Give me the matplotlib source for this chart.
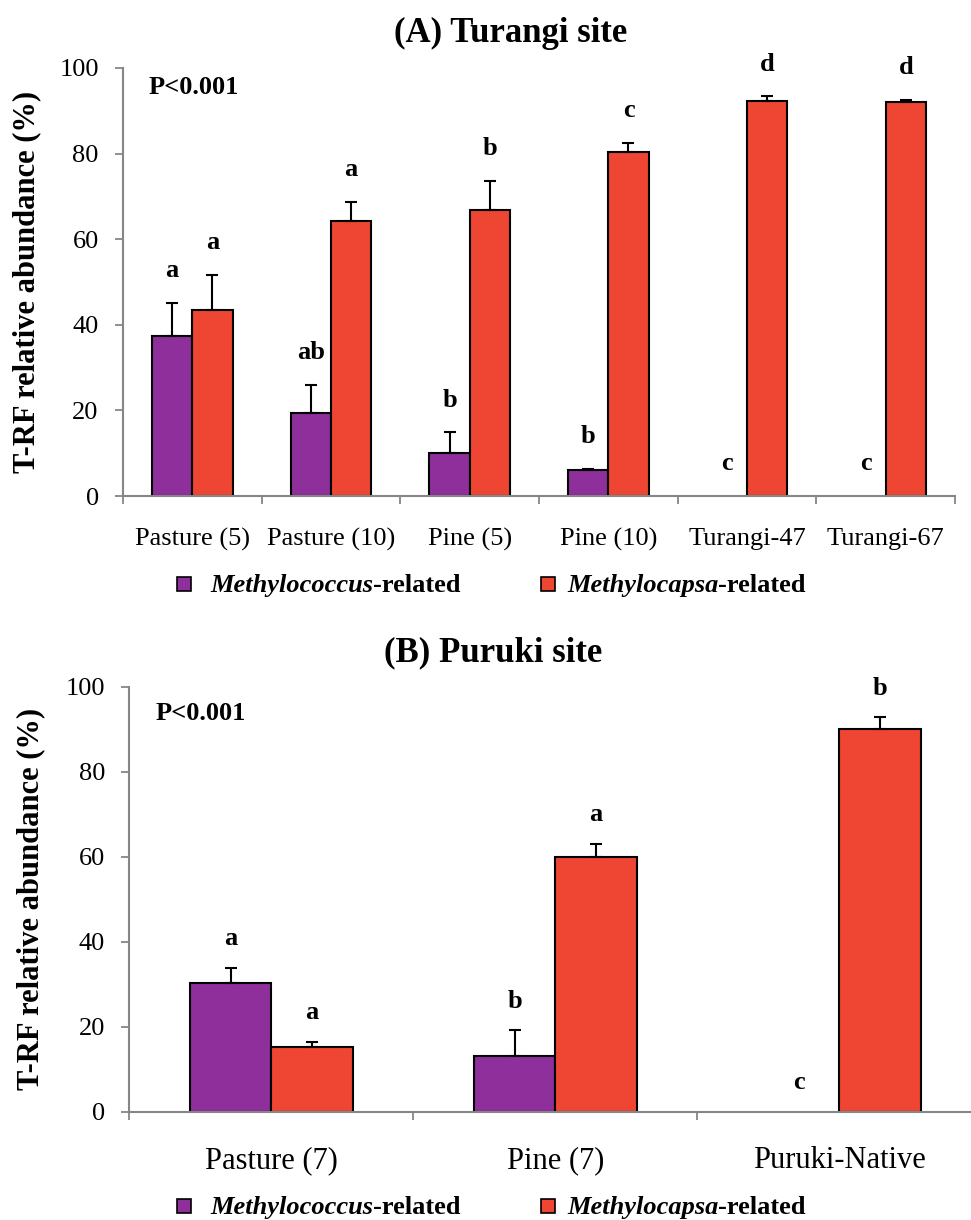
import numpy as np
import matplotlib
matplotlib.use('Agg')
import matplotlib.pyplot as plt
from matplotlib.patches import Rectangle

plt.rcParams['font.family'] = ['Liberation Serif', 'DejaVu Serif']

PURPLE = '#8E2F9B'
RED = '#EF4634'
GREY = '#868686'
W, H = 971, 1220

# (A) Turangi site
turangi_sites = ['Pasture (5)', 'Pasture (10)', 'Pine (5)', 'Pine (10)', 'Turangi-47', 'Turangi-67']
turangi_mcoccus = [37.5, 19.4, 10.1, 6.1, 0, 0]
turangi_mcoccus_se = [7.6, 6.6, 4.8, 0.3, 0, 0]
turangi_mcapsa = [43.5, 64.3, 66.8, 80.4, 92.4, 92.1]
turangi_mcapsa_se = [8.1, 4.5, 6.8, 2.1, 1.0, 0.5]
turangi_mcoccus_letters = ['a', 'ab', 'b', 'b', 'c', 'c']
turangi_mcapsa_letters = ['a', 'a', 'b', 'c', 'd', 'd']

# (B) Puruki site
puruki_sites = ['Pasture (7)', 'Pine (7)', 'Puruki-Native']
puruki_mcoccus = [30.4, 13.2, 0]
puruki_mcoccus_se = [3.5, 6.0, 0]
puruki_mcapsa = [15.3, 60.0, 90.0]
puruki_mcapsa_se = [1.2, 3.0, 2.8]
puruki_mcoccus_letters = ['a', 'b', 'c']
puruki_mcapsa_letters = ['a', 'a', 'b']

yticks = [0, 20, 40, 60, 80, 100]


def draw_panel(ax, sites, mcoccus, mcoccus_se, mcapsa, mcapsa_se, let1, let2,
               width, gap, xfs, xpad):
    x = np.arange(len(sites)) + 0.5
    series = [(x - width / 2, mcoccus, mcoccus_se, let1, PURPLE),
              (x + width / 2, mcapsa, mcapsa_se, let2, RED)]
    for xs, vals, se, letters, col in series:
        ax.bar(xs, vals, width, color=col,
               edgecolor=['black' if v > 0 else 'none' for v in vals],
               linewidth=1.5, zorder=2)
        for xi, v, e, l in zip(xs, vals, se, letters):
            if e > 0:
                ax.errorbar(xi, v, yerr=[[0], [e]], fmt='none', ecolor='black',
                            elinewidth=1.5, capsize=4.6, capthick=1.5, zorder=3)
            ax.text(xi, v + e + gap, l, ha='center', va='baseline',
                    fontsize=19, fontweight='bold', clip_on=False)

    ax.set_xlim(0, len(sites))
    ax.set_ylim(0, 100)
    ax.set_yticks(yticks)
    ax.set_xticks(np.arange(len(sites) + 1))
    ax.set_xticklabels([])
    ax.set_xticks(x, minor=True)
    ax.set_xticklabels(sites, minor=True, fontsize=xfs)
    ax.tick_params(axis='x', which='major', length=6, width=1.3, color=GREY)
    ax.tick_params(axis='x', which='minor', length=0, pad=xpad)
    ax.tick_params(axis='y', length=6, width=1.3, color=GREY, pad=11.5, labelsize=19)
    for s in ['top', 'right']:
        ax.spines[s].set_visible(False)
    for s in ['left', 'bottom']:
        ax.spines[s].set_color(GREY)
        ax.spines[s].set_linewidth(1.5)
    ax.text(-0.116, 0.5, 'T-RF relative abundance (%)', rotation=90, ha='center',
            va='center', fontsize=22, fontweight='bold', transform=ax.transAxes)


def legend_row(fig, ax, y_base):
    items = [(177, 210, 'Methylococcus', PURPLE), (541, 567, 'Methylocapsa', RED)]
    for sq_x, txt_x, genus, col in items:
        fig.patches.append(Rectangle((sq_x / W, 1 - (y_base - 1) / H), 14 / W, 14 / H,
                                     transform=fig.transFigure, facecolor=col,
                                     edgecolor='black', linewidth=1.2))
        t = fig.text(txt_x / W, 1 - y_base / H, genus, fontsize=19,
                     fontweight='bold', fontstyle='italic', va='baseline')
        ax.annotate('-related', xy=(1, 0), xycoords=t, va='bottom', ha='left',
                    fontsize=19, fontweight='bold', annotation_clip=False)


fig = plt.figure(figsize=(W / 100, H / 100), dpi=100)

ax1 = fig.add_axes([123 / W, 1 - 496 / H, 832 / W, 428 / H])
draw_panel(ax1, turangi_sites, turangi_mcoccus, turangi_mcoccus_se,
           turangi_mcapsa, turangi_mcapsa_se, turangi_mcoccus_letters,
           turangi_mcapsa_letters, 0.29, 6.0, 19, 23)
ax1.text(0.031, 0.9386, 'P<0.001', fontsize=19, fontweight='bold',
         va='baseline', transform=ax1.transAxes)
fig.text(511 / W, 1 - 33.5 / H, '(A) Turangi site', ha='center', va='center',
         fontsize=25, fontweight='bold')
legend_row(fig, ax1, 592)

ax2 = fig.add_axes([129.3 / W, 1 - 1111.7 / H, 852 / W, 425 / H])
draw_panel(ax2, puruki_sites, puruki_mcoccus, puruki_mcoccus_se,
           puruki_mcapsa, puruki_mcapsa_se, puruki_mcoccus_letters,
           puruki_mcapsa_letters, 0.286, 5.3, 22, 25)
ax2.text(0.031, 0.9216, 'P<0.001', fontsize=19, fontweight='bold',
         va='baseline', transform=ax2.transAxes)
fig.text(493 / W, 1 - 653 / H, '(B) Puruki site', ha='center', va='center',
         fontsize=25, fontweight='bold')
legend_row(fig, ax2, 1214)

fig.savefig('out.png', dpi=100)
